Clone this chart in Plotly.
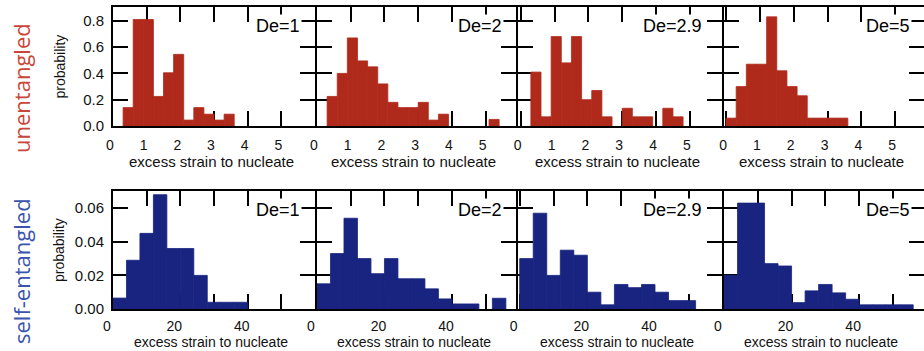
import plotly.graph_objects as go

W, H = 924, 351

# ---------------- data ----------------
TOP_BINS = [0.0, 0.3, 0.6, 0.9, 1.2, 1.5, 1.8, 2.1, 2.4, 2.7, 3.0, 3.3, 3.6, 3.9, 4.2, 4.5, 4.8, 5.1, 5.4]
TOP_WIDTH = 0.3
BOTTOM_BINS = [0, 4, 8, 12, 16, 20, 24, 28, 32, 36, 40, 44, 48, 52, 56]
BOTTOM_WIDTH = 4

DE_LABELS = ["De=1", "De=2", "De=2.9", "De=5"]

unent_de1 = [0, 0.14, 0.81, 0.81, 0.225, 0.405, 0.545, 0.045, 0.14, 0.09, 0.045, 0.09, 0, 0, 0, 0, 0, 0, 0]
unent_de2 = [0, 0.225, 0.40, 0.67, 0.495, 0.45, 0.32, 0.18, 0.14, 0.14, 0.18, 0.045, 0.09, 0, 0, 0, 0, 0.05, 0]
unent_de29 = [0, 0.41, 0.07, 0.68, 0.48, 0.68, 0.20, 0.27, 0.07, 0, 0.135, 0.07, 0.07, 0, 0.135, 0.07, 0, 0, 0]
unent_de5 = [0.06, 0.30, 0.47, 0.47, 0.83, 0.42, 0.30, 0.23, 0.06, 0.06, 0.06, 0.06, 0, 0, 0, 0, 0, 0, 0]

ent_de1 = [0.0065, 0.029, 0.045, 0.068, 0.036, 0.036, 0.020, 0.004, 0.004, 0.004, 0, 0, 0, 0, 0]
ent_de2 = [0.015, 0.033, 0.054, 0.030, 0.021, 0.030, 0.018, 0.018, 0.012, 0.006, 0.003, 0.003, 0, 0.0064, 0]
ent_de29 = [0.030, 0.057, 0.020, 0.035, 0.032, 0.010, 0.0025, 0.0146, 0.0127, 0.0146, 0.010, 0.005, 0.005, 0, 0]
ent_de5 = [0.020, 0.063, 0.063, 0.027, 0.0256, 0.0038, 0.0108, 0.0146, 0.0096, 0.0058, 0.0025, 0.0025, 0.0025, 0.0025, 0]

TOP_XTICKS = [0, 1, 2, 3, 4, 5]
BOTTOM_XTICKS = [0, 20, 40]
BOTTOM_XMINOR = [10, 30, 50]
TOP_YTICKS = [0.0, 0.2, 0.4, 0.6, 0.8]
BOTTOM_YTICKS = [0.00, 0.02, 0.04, 0.06]

ROW_LABELS = ["unentangled", "self-entangled"]
XLABEL = "excess strain to nucleate"
YLABEL = "probability"

# ---------------- styling / layout ----------------
RED = "#b02a1c"
BLUE = "#18247f"
RED_LABEL = "#c9463a"
BLUE_LABEL = "#3a55ad"
FONT = "Liberation Sans, Arial, sans-serif"

col_px = [(113, 315), (317, 516), (518, 722), (724, 924)]
row_px = [(7, 126), (191, 309)]
top_ranges = [(0, 6.0), (0, 5.9), (-0.08, 5.95), (-0.06, 5.85)]
bot_ranges = [(0, 60), (0, 59), (-0.5, 59.8), (0, 59.2)]
de_right_px = [302, 504, 704, 912]
xtitle_y_px = [161, 342]
xtitle_size = [15, 14]

def px_x(p):
    return p / W

def px_y(p):
    return 1 - p / H

fig = go.Figure()
series = [unent_de1, unent_de2, unent_de29, unent_de5, ent_de1, ent_de2, ent_de29, ent_de5]

layout = dict(
    template="none",
    width=W, height=H, margin=dict(l=0, r=0, t=0, b=0),
    paper_bgcolor="white", plot_bgcolor="white", showlegend=False,
    font=dict(family=FONT, color="black", size=14),
)
annotations = []

for i, vals in enumerate(series):
    r, c = divmod(i, 4)
    n = i + 1
    top = r == 0
    bins = TOP_BINS if top else BOTTOM_BINS
    width = TOP_WIDTH if top else BOTTOM_WIDTH
    col = RED if top else BLUE
    fig.add_trace(go.Bar(
        x=bins, y=vals, width=width, offset=0,
        marker=dict(color=col,
                    line=dict(width=[0.8 if v > 0 else 0 for v in vals], color=col)),
        xaxis=f"x{n}", yaxis=f"y{n}", hoverinfo="skip",
    ))
    x0, x1 = col_px[c]
    y0, y1 = row_px[r]
    common = dict(
        showline=True, linewidth=2, linecolor="black", mirror="ticks",
        ticks="inside", ticklen=15, tickwidth=2, tickcolor="black",
        showgrid=False, zeroline=False, layer="below traces",
        tickfont=dict(family=FONT, size=14, color="#111"),
    )
    xa = dict(common, domain=[px_x(x0), px_x(x1)], anchor=f"y{n}",
              range=list(top_ranges[c] if top else bot_ranges[c]),
              tickmode="array",
              tickvals=TOP_XTICKS if top else BOTTOM_XTICKS,
              ticklabelstandoff=5 if top else 3,
              ticklabelshift=-3 if top else -6)
    if not top:
        xa["minor"] = dict(tickmode="array", tickvals=BOTTOM_XMINOR, ticks="inside",
                           ticklen=15, tickwidth=2, tickcolor="black", showgrid=False)
    ya = dict(common, domain=[px_y(y1), px_y(y0)], anchor=f"x{n}",
              range=[0, 0.905] if top else [0, 0.0702],
              tickmode="array",
              tickvals=TOP_YTICKS if top else BOTTOM_YTICKS,
              tickformat=".1f" if top else ".2f",
              showticklabels=(c == 0), ticklabelstandoff=4,
              tickfont=dict(family=FONT, size=15, color="#111"))
    layout[f"xaxis{n}"] = xa
    layout[f"yaxis{n}"] = ya

    # De label
    annotations.append(dict(
        text=DE_LABELS[c], x=px_x(de_right_px[c]), y=px_y(y0 + 19),
        xref="paper", yref="paper", xanchor="right", yanchor="middle",
        showarrow=False, bgcolor="white", borderpad=1,
        font=dict(family=FONT, size=18, color="black"),
    ))
    # x-axis title
    annotations.append(dict(
        text=XLABEL, x=px_x((x0 + x1) / 2 - 3), y=px_y(xtitle_y_px[r]),
        xref="paper", yref="paper", xanchor="center", yanchor="middle",
        showarrow=False, font=dict(family=FONT, size=xtitle_size[r], color="#111"),
    ))

# y titles and row labels
for r in range(2):
    y0, y1 = row_px[r]
    annotations.append(dict(
        text=YLABEL, x=px_x(59), y=px_y((y0 + y1) / 2),
        xref="paper", yref="paper", xanchor="center", yanchor="middle",
        textangle=-90, showarrow=False,
        font=dict(family=FONT, size=14, color="#111"),
    ))
annotations.append(dict(
    text=ROW_LABELS[0], x=px_x(21), y=px_y(88), xref="paper", yref="paper",
    xanchor="center", yanchor="middle", textangle=-90, showarrow=False,
    font=dict(family="Open Sans, sans-serif", size=22, color=RED_LABEL),
))
annotations.append(dict(
    text=ROW_LABELS[1], x=px_x(21), y=px_y(271), xref="paper", yref="paper",
    xanchor="center", yanchor="middle", textangle=-90, showarrow=False,
    font=dict(family="Open Sans, sans-serif", size=22, color=BLUE_LABEL),
))

layout["annotations"] = annotations
fig.update_layout(**layout)
fig.write_html("out.html")
